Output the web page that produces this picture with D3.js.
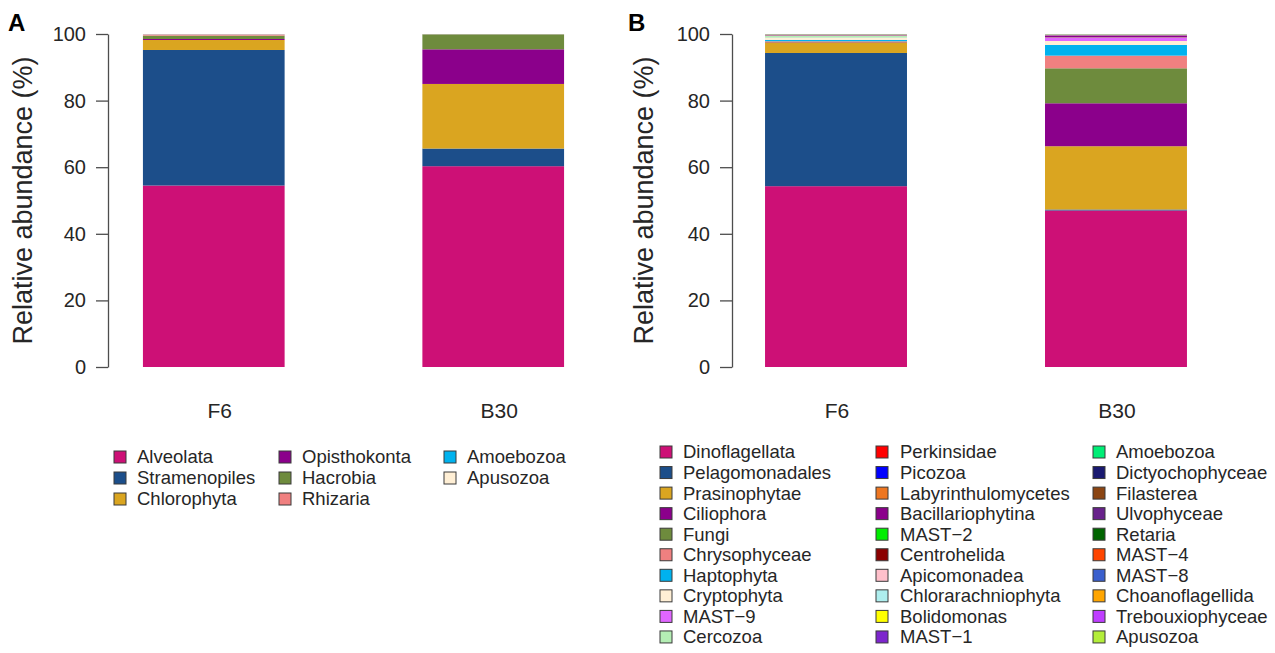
<!DOCTYPE html>
<html>
<head>
<meta charset="utf-8">
<script src="https://cdn.jsdelivr.net/npm/d3@7"></script>
<style>
  html, body { margin: 0; padding: 0; background: #fff; }
  svg { display: block; font-family: "Liberation Sans", Arial, Helvetica, sans-serif; }
</style>
</head>
<body>
<svg id="chart" width="1275" height="653"></svg>
<script>
// Samples shown on both panels
const samples = ["F6", "B30"];
const yTicks = [0, 20, 40, 60, 80, 100];

// Panel A: supergroup-level composition (%)
const groupsA = ["Alveolata", "Stramenopiles", "Chlorophyta", "Opisthokonta",
                 "Hacrobia", "Rhizaria", "Amoebozoa", "Apusozoa"];
const colorsA = ["#CD1076", "#1C4E8A", "#DAA520", "#8B008B",
                 "#6E8B3D", "#F08080", "#00B2EE", "#FFEFD5"];
const valuesA_F6  = [54.5, 40.7, 3.0, 0.3, 1.0, 0.4, 0.05, 0.05];
const valuesA_B30 = [60.3, 5.3, 19.4, 10.4, 4.5, 0.05, 0.02, 0.03];

// Panel B: lineage-level composition (%)
const groupsB = ["Dinoflagellata", "Pelagomonadales", "Prasinophytae", "Ciliophora",
  "Fungi", "Chrysophyceae", "Haptophyta", "Cryptophyta", "MAST\u22129", "Cercozoa",
  "Perkinsidae", "Picozoa", "Labyrinthulomycetes", "Bacillariophytina", "MAST\u22122",
  "Centrohelida", "Apicomonadea", "Chlorarachniophyta", "Bolidomonas", "MAST\u22121",
  "Amoebozoa", "Dictyochophyceae", "Filasterea", "Ulvophyceae", "Retaria",
  "MAST\u22124", "MAST\u22128", "Choanoflagellida", "Trebouxiophyceae", "Apusozoa"];
const colorsB = ["#CD1076", "#1C4E8A", "#DAA520", "#8B008B",
  "#6E8B3D", "#F08080", "#00B2EE", "#FFEFD5", "#E066FF", "#B4EEB4",
  "#FF0000", "#0000FF", "#EE7621", "#8B008B", "#00EE00",
  "#8B0000", "#FFC0CB", "#AEEEEE", "#FFFF00", "#7D26CD",
  "#00EE76", "#191970", "#8B4513", "#68228B", "#006400",
  "#FF4500", "#3A5FCD", "#FFA500", "#BF3EFF", "#B3EE3A"];
const valuesB_F6 = [54.3, 40.0, 3.2, 0.15, 0.1, 0.1, 0.4, 0.6, 0.05, 0.6,
  0.05, 0.05, 0.05, 0.05, 0.02, 0.02, 0.02, 0.05, 0.03, 0.02,
  0.01, 0.02, 0.01, 0.01, 0.02, 0.01, 0.01, 0.01, 0.01, 0.01];
const valuesB_B30 = [47.0, 0.3, 19.0, 12.9, 10.5, 3.8, 3.2, 1.2, 0.9, 0.1,
  0.02, 0.02, 0.05, 0.6, 0.02, 0.02, 0.05, 0.05, 0.02, 0.02,
  0.03, 0.02, 0.01, 0.01, 0.02, 0.01, 0.01, 0.01, 0.02, 0.05];

const svg = d3.select("#chart");
const axisColor = "#4d4d4d";
const textColor = "#262626";

function drawPanel(cfg) {
  const g = svg.append("g");

  const y = d3.scaleLinear().domain([0, 100]).range([cfg.y0, cfg.y1]);
  const x = d3.scaleBand().domain(samples).range(cfg.xRange)
    .paddingInner(cfg.pad).paddingOuter(cfg.padOuter);

  // stacked table: one row per sample
  const rows = samples.map((s, i) => {
    const r = { sample: s };
    cfg.groups.forEach((k, j) => { r[k] = cfg.values[i][j]; });
    return r;
  });
  const stacked = d3.stack().keys(cfg.groups)(rows);
  const color = d3.scaleOrdinal().domain(cfg.groups).range(cfg.colors);

  g.selectAll("g.layer")
    .data(stacked)
    .join("g")
    .attr("class", "layer")
    .attr("fill", d => color(d.key))
    .selectAll("rect")
    .data(d => d)
    .join("rect")
    .attr("x", d => x(d.data.sample))
    .attr("width", x.bandwidth())
    .attr("y", d => y(d[1]))
    .attr("height", d => Math.max(0, y(d[0]) - y(d[1])));

  // y axis
  const axis = d3.axisLeft(y).tickValues(yTicks).tickSize(12).tickPadding(10).tickSizeOuter(0);
  const ag = g.append("g").attr("transform", `translate(${cfg.axisX},0)`).call(axis);
  ag.select(".domain").attr("stroke", axisColor).attr("stroke-width", 1.3);
  ag.selectAll(".tick line").attr("stroke", axisColor).attr("stroke-width", 1.3);
  ag.selectAll(".tick text").attr("fill", textColor).style("font-size", "20px")
    .style("font-family", "Liberation Sans, Arial, sans-serif");

  // axis title
  g.append("text")
    .attr("transform", `translate(${cfg.titleX},${(cfg.y0 + cfg.y1) / 2}) rotate(-90)`)
    .attr("text-anchor", "middle")
    .attr("fill", textColor)
    .style("font-size", "27px")
    .text("Relative abundance (%)");

  // sample labels
  g.selectAll("text.sample")
    .data(samples)
    .join("text")
    .attr("class", "sample")
    .attr("x", d => x(d) + x.bandwidth() / 2 + cfg.labelShift)
    .attr("y", 418)
    .attr("text-anchor", "middle")
    .attr("fill", textColor)
    .style("font-size", "21px")
    .text(d => d);

  // panel letter
  g.append("text")
    .attr("x", cfg.letterX).attr("y", 31)
    .attr("fill", "#000")
    .style("font-size", "24px").style("font-weight", "bold")
    .text(cfg.letter);

  // legend, filled column by column
  const lg = g.append("g");
  const items = cfg.groups.map((k, i) => ({ key: k, col: Math.floor(i / cfg.rows), row: i % cfg.rows }));
  const it = lg.selectAll("g.item").data(items).join("g").attr("class", "item")
    .attr("transform", d => `translate(0,${cfg.legY + d.row * cfg.legStep})`);
  it.append("rect")
    .attr("x", d => cfg.sqX[d.col])
    .attr("y", -6)
    .attr("width", 12).attr("height", 12)
    .attr("fill", d => color(d.key))
    .attr("stroke", "#3a3a3a").attr("stroke-width", 1);
  it.append("text")
    .attr("x", d => cfg.txX[d.col])
    .attr("y", 0)
    .attr("dy", "0.35em")
    .attr("fill", textColor)
    .style("font-size", "18.5px")
    .text(d => d.key);
}

drawPanel({
  letter: "A", letterX: 8,
  groups: groupsA, colors: colorsA, values: [valuesA_F6, valuesA_B30],
  y0: 367, y1: 34, xRange: [108, 599], pad: 0.493, padOuter: 0.125,
  axisX: 108, titleX: 32, labelShift: 6,
  rows: 3, legY: 457, legStep: 21, sqX: [114, 279, 444], txX: [137, 302, 467]
});

drawPanel({
  letter: "B", letterX: 628,
  groups: groupsB, colors: colorsB, values: [valuesB_F6, valuesB_B30],
  y0: 367, y1: 34, xRange: [732, 1220], pad: 0.493, padOuter: 0.118,
  axisX: 732, titleX: 653, labelShift: 1,
  rows: 10, legY: 452, legStep: 20.55, sqX: [660, 876, 1093], txX: [683, 900, 1116]
});
</script>
</body>
</html>
